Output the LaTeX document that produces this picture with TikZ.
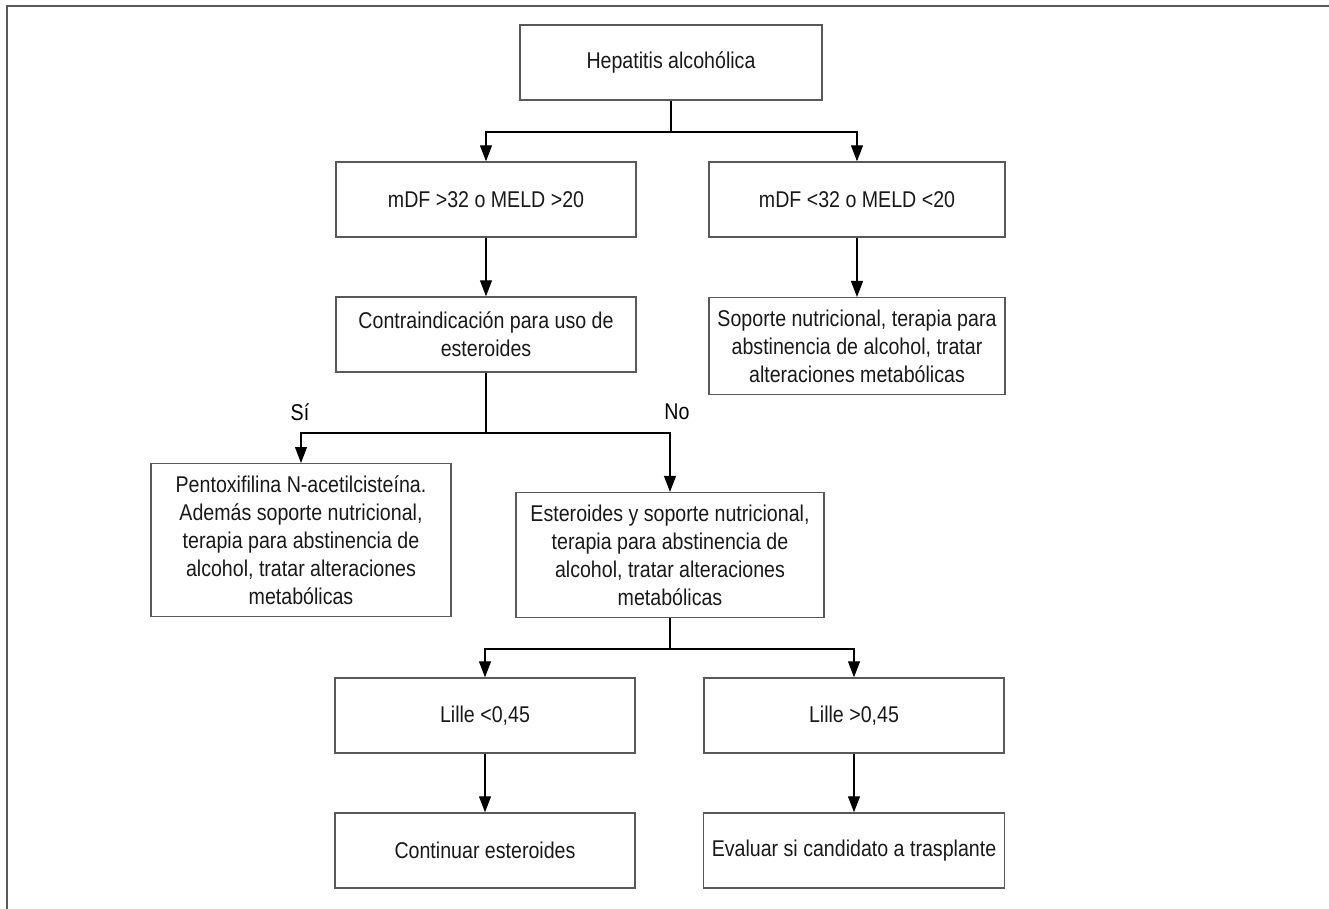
\documentclass[tikz,border=0pt]{standalone}
\usepackage{fontspec}
\setmainfont{Liberation Sans}[FakeStretch=0.86]
\usetikzlibrary{arrows.meta,positioning,calc}

\begin{document}
\begin{tikzpicture}[
        x=0.5pt, y=-0.5pt,
        font=\fontsize{11.4}{14}\selectfont,
        block/.style={rectangle, draw=black!65, line width=0.7pt, minimum width=150pt, minimum height=37.5pt, align=center, inner xsep=4pt, inner ysep=6pt, text=black!90},
        arrow/.style={-{Triangle[length=8pt,width=6pt]}, line width=0.6pt},
        line/.style={line width=0.6pt}
    ]
        \useasboundingbox (0,0) rectangle (1329,909);
        % frame
        \draw[black!65, line width=1pt] (1329,6) -- (7,6) -- (7,909);

        \node[block, minimum width=151pt] (hep) at (671,62.5) {Hepatitis alcohólica};
        \node[block] (mdfhi) at (486,199.5) {mDF >32 o MELD >20};
        \node[block, minimum width=148pt] (mdflo) at (857,199.5) {mDF <32 o MELD <20};
        \node[block] (contra) at (486,334.5) {Contraindicación para uso de\\ esteroides};
        \node[block, minimum width=148pt, anchor=north] (soporte) at (857,297) {Soporte nutricional, terapia para\\ abstinencia de alcohol, tratar\\ alteraciones metabólicas};
        \node[block, anchor=north] (pentox) at (301,463) {Pentoxifilina N-acetilcisteína.\\ Además soporte nutricional,\\ terapia para abstinencia de\\ alcohol, tratar alteraciones\\ metabólicas};
        \node[block, minimum width=154pt, anchor=south] (ester) at (670,618) {Esteroides y soporte nutricional,\\ terapia para abstinencia de\\ alcohol, tratar alteraciones\\ metabólicas};
        \node[block] (lillelo) at (485,715.5) {Lille <0,45};
        \node[block] (lillehi) at (854,715.5) {Lille >0,45};
        \node[block] (cont) at (485,850.5) {Continuar esteroides};
        \node[block] (eval) at (854,850.5) {Evaluar si candidato a trasplante};

        \node (si) at (300,412) {Sí};
        \node (no) at (677,412) {No};

        \coordinate (split1) at (671,132);
        \coordinate (split2) at (486,433);
        \coordinate (split3) at (670,649);

        \draw[line] (hep) -- (split1);
        \draw[arrow] (split1) -| (mdfhi);
        \draw[arrow] (split1) -| (mdflo);
        \draw[arrow] (mdfhi) -- (contra);
        \draw[arrow] (mdflo) -- (soporte);
        \draw[line] (contra) -- (split2);
        \draw[arrow] (split2) -| (pentox);
        \draw[arrow] (split2) -| (ester);
        \draw[line] (ester) -- (split3);
        \draw[arrow] (split3) -| (lillelo);
        \draw[arrow] (split3) -| (lillehi);
        \draw[arrow] (lillelo) -- (cont);
        \draw[arrow] (lillehi) -- (eval);
    \end{tikzpicture}
\end{document}
